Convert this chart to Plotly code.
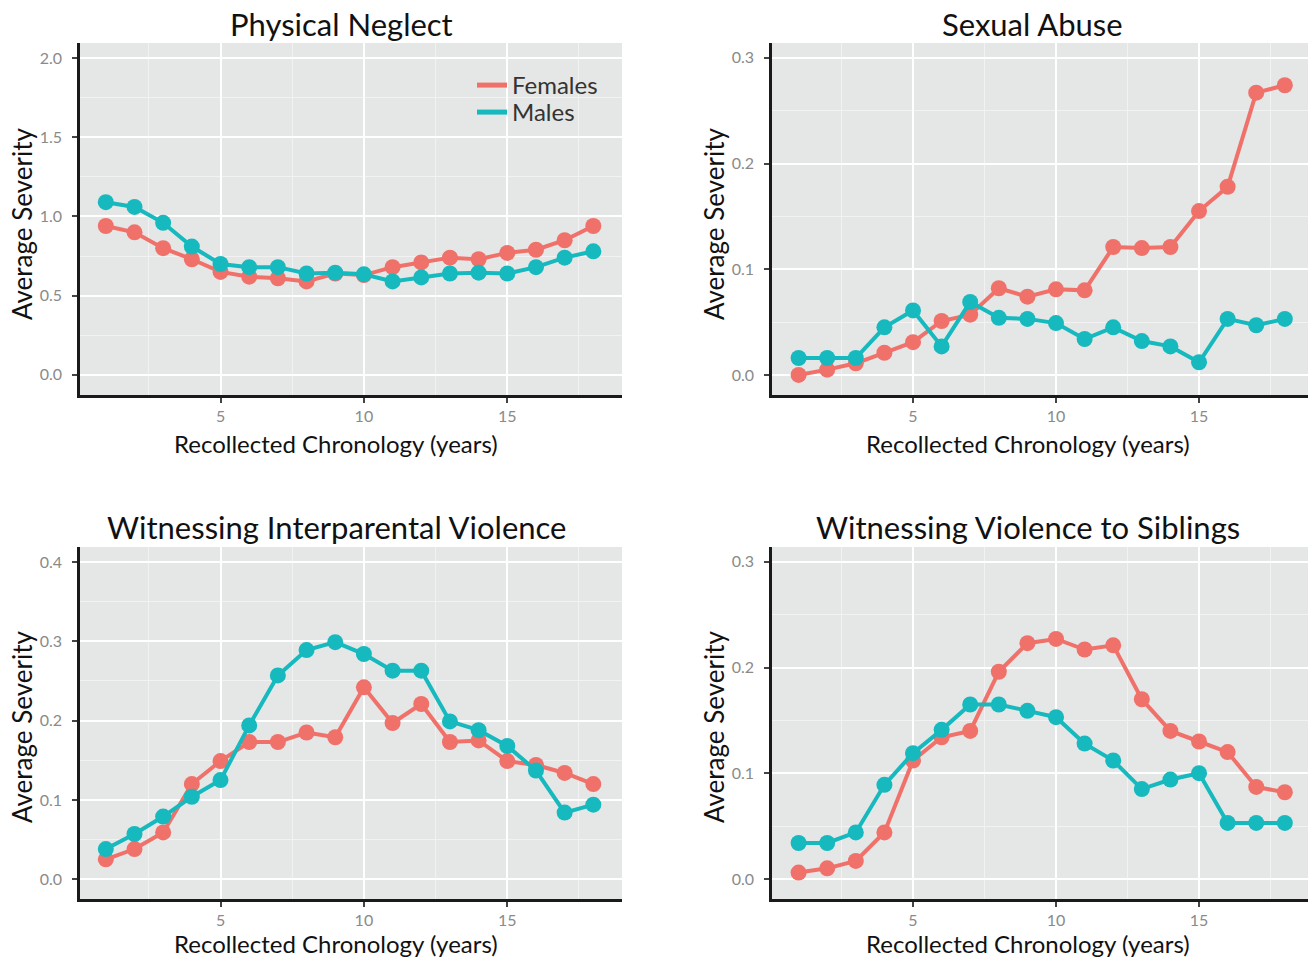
import plotly.graph_objects as go

# Recollected chronology (years of age)
years = list(range(1, 19))

# Average severity per year, by sex, for each adversity type
neglect_f = [0.94, 0.90, 0.80, 0.73, 0.65, 0.62, 0.61, 0.59, 0.64, 0.63, 0.68, 0.71, 0.74, 0.73, 0.77, 0.79, 0.85, 0.94]
neglect_m = [1.09, 1.06, 0.96, 0.81, 0.70, 0.68, 0.68, 0.64, 0.645, 0.635, 0.59, 0.615, 0.64, 0.645, 0.64, 0.68, 0.74, 0.78]

sexual_f = [0.0, 0.005, 0.011, 0.021, 0.031, 0.051, 0.057, 0.082, 0.074, 0.081, 0.080, 0.121, 0.120, 0.121, 0.155, 0.178, 0.267, 0.274]
sexual_m = [0.016, 0.016, 0.016, 0.045, 0.061, 0.027, 0.069, 0.054, 0.053, 0.049, 0.034, 0.045, 0.032, 0.027, 0.012, 0.053, 0.047, 0.053]

interparental_f = [0.025, 0.038, 0.059, 0.120, 0.149, 0.173, 0.173, 0.185, 0.179, 0.242, 0.197, 0.221, 0.173, 0.175, 0.149, 0.144, 0.134, 0.120]
interparental_m = [0.038, 0.057, 0.079, 0.104, 0.125, 0.194, 0.257, 0.289, 0.299, 0.284, 0.263, 0.263, 0.199, 0.188, 0.168, 0.137, 0.084, 0.094]

siblings_f = [0.006, 0.010, 0.017, 0.044, 0.112, 0.134, 0.140, 0.196, 0.223, 0.227, 0.217, 0.221, 0.170, 0.140, 0.130, 0.120, 0.087, 0.082]
siblings_m = [0.034, 0.034, 0.044, 0.089, 0.119, 0.141, 0.165, 0.165, 0.159, 0.153, 0.128, 0.112, 0.085, 0.094, 0.100, 0.053, 0.053, 0.053]

panel_titles = ["Physical Neglect", "Sexual Abuse",
                "Witnessing Interparental Violence", "Witnessing Violence to Siblings"]
series_names = ["Females", "Males"]

W, H = 1308, 959
FONT = "Lato"
C_F = "#F0716A"
C_M = "#16B9BE"
PANEL_BG = "#E5E6E6"

def px_x(p):
    return p / W

def px_y(p):
    return 1 - p / H

panels = [
    dict(f=neglect_f, m=neglect_m, xd=(80, 622), yd=(43, 395), xr=[0.1, 19.0], yr=[-0.127, 2.095], dt=0.5),
    dict(f=sexual_f, m=sexual_m, xd=(772, 1308), yd=(43, 395), xr=[0.07, 18.81], yr=[-0.019, 0.314], dt=0.1),
    dict(f=interparental_f, m=interparental_m, xd=(80, 622), yd=(547, 899), xr=[0.1, 19.0], yr=[-0.025, 0.419], dt=0.1),
    dict(f=siblings_f, m=siblings_m, xd=(772, 1308), yd=(547, 899), xr=[0.07, 18.81], yr=[-0.019, 0.314], dt=0.1),
]

fig = go.Figure()
legend_common = dict(
    xanchor="left", yanchor="top", bgcolor="rgba(0,0,0,0)",
    font=dict(size=24, family=FONT, color="#333333"), itemwidth=30,
)
layout = dict(
    width=W, height=H,
    margin=dict(l=0, r=0, t=0, b=0),
    paper_bgcolor="white",
    plot_bgcolor=PANEL_BG,
    font=dict(family=FONT, color="#222222"),
    showlegend=True,
    legend=dict(x=px_x(472), y=px_y(63), **legend_common),
    legend2=dict(x=px_x(472), y=px_y(90), **legend_common),
    annotations=[],
)

for i, p in enumerate(panels):
    n = "" if i == 0 else str(i + 1)
    xa, ya = "x" + n, "y" + n
    for vals, color in ((p["f"], C_F), (p["m"], C_M)):
        fig.add_trace(go.Scatter(
            x=years, y=vals, xaxis=xa, yaxis=ya, mode="lines+markers",
            line=dict(color=color, width=4),
            marker=dict(color=color, size=16),
            showlegend=False, hoverinfo="x+y",
        ))
    grid_common = dict(
        showgrid=True, gridcolor="white", gridwidth=2,
        showline=True, linecolor="#1a1a1a", linewidth=2.5,
        ticks="outside", ticklen=5, tickwidth=1.5, tickcolor="#444444",
        tickfont=dict(size=16, color="#8a8a8a", family=FONT),
        zeroline=False, fixedrange=True,
    )
    layout["xaxis" + n] = dict(
        domain=[px_x(p["xd"][0]), min(px_x(p["xd"][1]), 1.0)],
        range=p["xr"], anchor=ya, tick0=0, dtick=5,
        ticklabelstandoff=0,
        minor=dict(showgrid=True, gridcolor="#F2F2F2", gridwidth=1, tick0=0, dtick=2.5, ticks=""),
        **grid_common,
    )
    layout["yaxis" + n] = dict(
        domain=[px_y(p["yd"][1]), px_y(p["yd"][0])],
        range=p["yr"], anchor=xa, tick0=0, dtick=p["dt"], tickformat=".1f",
        ticklabelstandoff=7,
        minor=dict(showgrid=True, gridcolor="#F2F2F2", gridwidth=1, tick0=0, dtick=p["dt"] / 2, ticks=""),
        **grid_common,
    )

# Legend entries drawn as plain line keys
for name, color, lg in zip(series_names, (C_F, C_M), ("legend", "legend2")):
    fig.add_trace(go.Scatter(
        x=[None], y=[None], mode="lines", name=name, legend=lg,
        line=dict(color=color, width=5), showlegend=True,
    ))

# Panel titles and axis titles
title_pos = [(341, 24), (1032, 24), (336, 527), (1028, 527)]
xlab_pos = [(336, 443), (1028, 443), (336, 943), (1028, 943)]
ylab_pos = [(22, 224), (714, 224), (22, 727), (714, 727)]
for t, (tx, ty), (lx, ly), (yx, yy) in zip(panel_titles, title_pos, xlab_pos, ylab_pos):
    layout["annotations"].append(dict(
        text=t, x=px_x(tx), y=px_y(ty), xref="paper", yref="paper",
        xanchor="center", yanchor="middle", showarrow=False,
        font=dict(size=31, family=FONT, color="#111111"),
    ))
    layout["annotations"].append(dict(
        text="Recollected Chronology (years)", x=px_x(lx), y=px_y(ly), xref="paper", yref="paper",
        xanchor="center", yanchor="middle", showarrow=False,
        font=dict(size=24, family=FONT, color="#111111"),
    ))
    layout["annotations"].append(dict(
        text="Average Severity", x=px_x(yx), y=px_y(yy), xref="paper", yref="paper",
        xanchor="center", yanchor="middle", showarrow=False, textangle=-90,
        font=dict(size=26, family=FONT, color="#111111"),
    ))

fig.update_layout(**layout)
fig.write_html("out.html", config=dict(displayModeBar=False))
